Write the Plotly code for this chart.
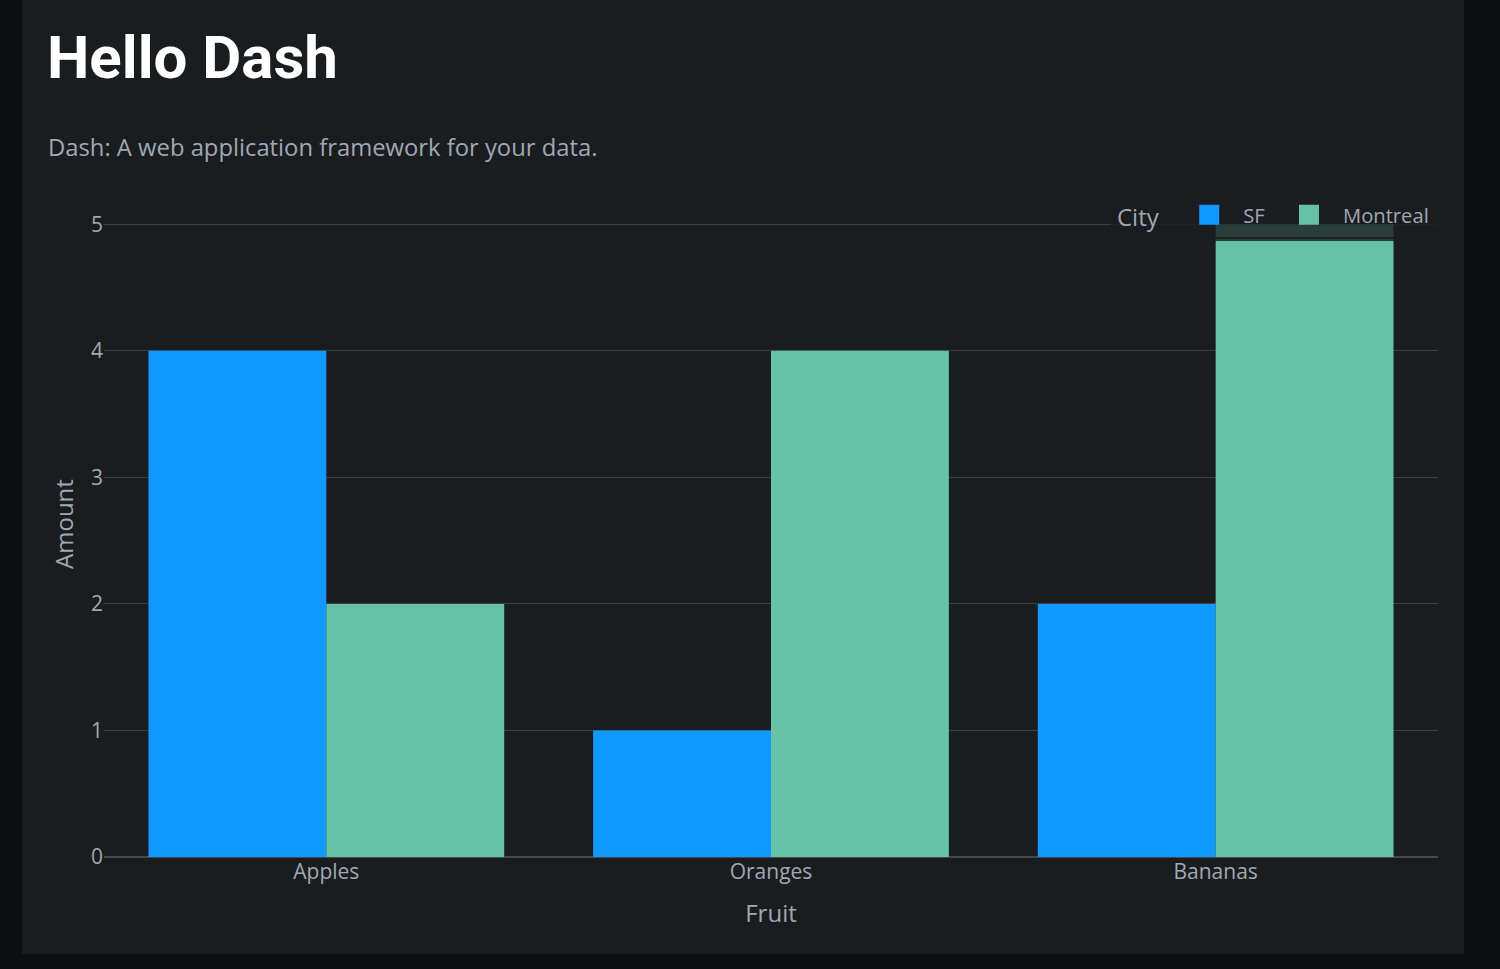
import plotly.graph_objects as go

fruits = ["Apples", "Oranges", "Bananas"]
cities = ["SF", "Montreal"]
sf_amount = [4, 1, 2]
montreal_amount = [2, 4, 5]
y_ticks = [0, 1, 2, 3, 4, 5]
city_colors = ["#1199ff", "#66c2a5"]

W, H = 1500, 969
L, R, T, B = 104, 1438, 191, 857
pw, ph = R - L, B - T

def px(x):
    return (x - L) / pw

def py(y):
    return (B - y) / ph

TEXT = "#a0a8b4"
PANEL = "#1a1d20"
OUTER = "#0d0f12"
FONT = "Open Sans"

fig = go.Figure()
for city, vals, col in zip(cities, [sf_amount, montreal_amount], city_colors):
    fig.add_trace(go.Bar(name=city, x=fruits, y=vals, marker_color=col,
                         marker_line_width=0, legendgroup=city, showlegend=False))
# legend entries (square swatches)
for i, (city, col) in enumerate(zip(cities, city_colors)):
    label = city + ("&nbsp;" if i == 0 else "")
    fig.add_trace(go.Scatter(name=label, x=[None], y=[None], mode="markers",
                             legendgroup=city, showlegend=True,
                             marker=dict(symbol="square", size=16, color=col,
                                         line=dict(color=col, width=4))))

fig.update_layout(
    width=W, height=H,
    margin=dict(l=L, r=W - R, t=T, b=H - B, pad=0),
    paper_bgcolor=OUTER,
    plot_bgcolor="rgba(0,0,0,0)",
    barmode="group",
    bargap=0.2,
    bargroupgap=0,
    font=dict(family=FONT, color=TEXT, size=21),
    showlegend=True,
    legend=dict(
        title=dict(text="City&nbsp;&nbsp;", font=dict(size=24, color=TEXT)),
        orientation="h",
        x=1, xanchor="right", y=1, yanchor="top",
        bgcolor="rgba(26,29,32,0.8)",
        bordercolor="rgba(26,29,32,0.8)",
        borderwidth=4,
        itemwidth=58,
        font=dict(size=20.2, color=TEXT),
    ),
    xaxis=dict(
        title=dict(text="Fruit", font=dict(size=24, color=TEXT), standoff=21),
        showgrid=False, zeroline=False, showline=False,
        tickfont=dict(size=21, color=TEXT),
        categoryorder="array", categoryarray=fruits,
    ),
    yaxis=dict(
        title=dict(text="Amount", font=dict(size=24, color=TEXT), standoff=10),
        tickvals=y_ticks,
        showgrid=True, gridcolor="#3b3e42", gridwidth=1,
        zeroline=True, zerolinecolor="#46494d", zerolinewidth=2,
        showline=False,
        tickfont=dict(size=21, color=TEXT),
    ),
    shapes=[
        dict(type="rect", xref="paper", yref="paper",
             x0=px(22), x1=px(1464), y0=py(954), y1=py(0),
             fillcolor=PANEL, line_width=0, layer="below"),
    ],
    annotations=[
        dict(text="<b>Hello Dash</b>", xref="paper", yref="paper",
             x=px(45), y=py(58), xanchor="left", yanchor="middle", showarrow=False,
             font=dict(family="Roboto", size=60, color="#ffffff")),
        dict(text="Dash: A web application framework for your data.", xref="paper", yref="paper",
             x=px(46), y=py(147), xanchor="left", yanchor="middle", showarrow=False,
             font=dict(family=FONT, size=23.8, color=TEXT)),
    ],
)

fig.write_html("out.html")
